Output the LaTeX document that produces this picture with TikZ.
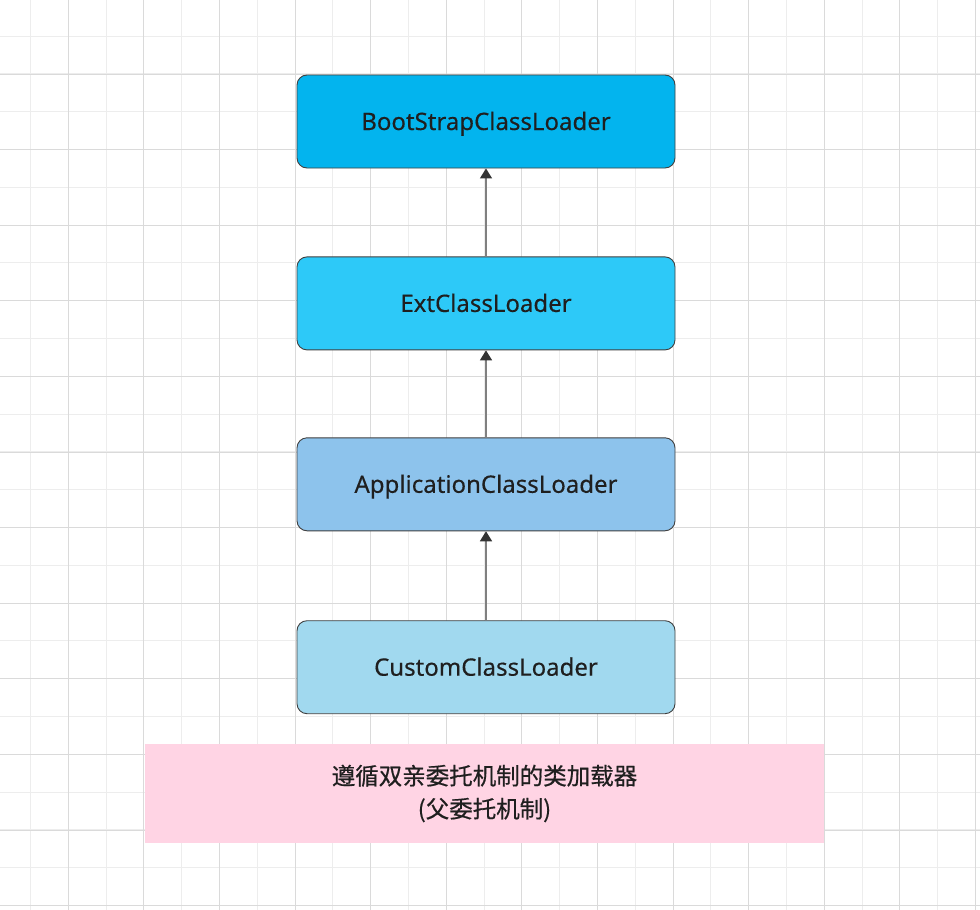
\documentclass[tikz,border=0pt]{standalone}
\usepackage{fontspec}
\setmainfont[FakeBold=0.3]{Noto Sans}
\newfontfamily\cjk[FakeBold=0.6]{Noto Sans CJK SC}
\usetikzlibrary{positioning,arrows.meta}

\definecolor{bootblue}{HTML}{03B4EE}
\definecolor{extblue}{HTML}{2DC9F8}
\definecolor{appblue}{HTML}{8DC3EC}
\definecolor{custblue}{HTML}{A1D9EF}
\definecolor{notepink}{HTML}{FFD4E4}
\definecolor{gridminor}{HTML}{EDEDED}
\definecolor{gridmajor}{HTML}{DADADA}

\tikzset{
  loader/.style={draw=black!75, line width=0.9pt, rounded corners=10pt,
    minimum width=378pt, minimum height=93pt, font=\fontsize{24}{28}\selectfont,
    text height=17pt, text depth=0pt, text=black!88},
  parent/.style={draw=black!50, line width=1.4pt,
    -{Triangle[width=12pt,length=10pt,color=black!80]}}
}

\begin{document}
\begin{tikzpicture}[x=1pt,y=-1pt]
  \useasboundingbox (0,0) rectangle (980,910);
  \fill[white] (0,0) rectangle (980,910);

  % background grid
  \foreach \i in {0,...,25} {
    \draw[gridminor, line width=1pt] ({30.5+37.8*\i},0) -- ({30.5+37.8*\i},910);
    \draw[gridminor, line width=1pt] (0,{36+37.8*\i}) -- (980,{36+37.8*\i});
  }
  \foreach \i in {0,...,12} {
    \draw[gridmajor, line width=1pt] ({68.3+75.6*\i},0) -- ({68.3+75.6*\i},910);
    \draw[gridmajor, line width=1pt] (0,{74+75.6*\i}) -- (980,{74+75.6*\i});
  }

  % class loaders
  \node[loader, fill=bootblue] (boot) at (486,121.5) {BootStrapClassLoader};
  \node[loader, fill=extblue, below=88pt of boot] (ext) {ExtClassLoader};
  \node[loader, fill=appblue, below=87pt of ext] (app) {ApplicationClassLoader};
  \node[loader, fill=custblue, below=89pt of app] (custom) {CustomClassLoader};

  % delegation
  \draw[parent] (ext) -- (boot);
  \draw[parent] (app) -- (ext);
  \draw[parent] (custom) -- (app);

  % note
  \node[fill=notepink, minimum width=679pt, minimum height=99pt,
    align=center, font=\cjk\fontsize{23.5}{33}\selectfont, text=black!88]
    (note) at (484.5,793.5) {遵循双亲委托机制的类加载器\\(父委托机制)};
\end{tikzpicture}
\end{document}
